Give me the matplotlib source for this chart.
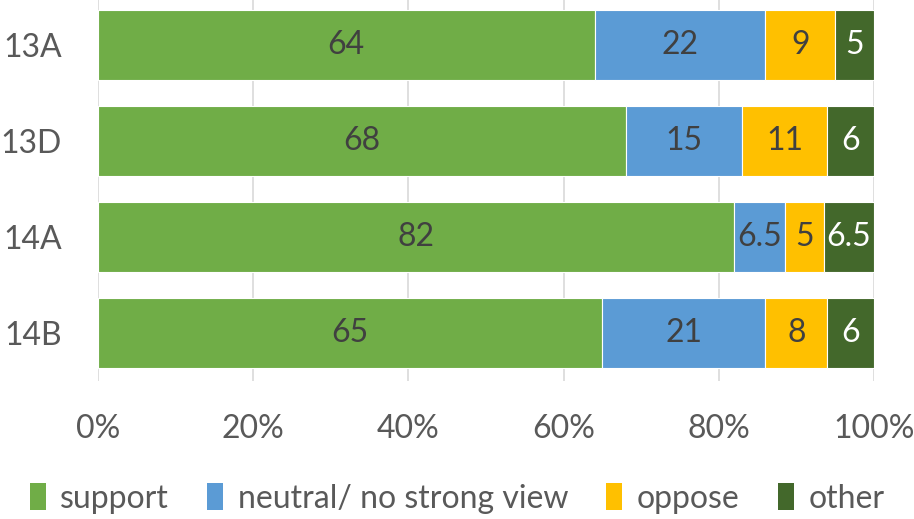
import matplotlib.pyplot as plt
import numpy as np

categories = ["13A", "13D", "14A", "14B"]
support = [64, 68, 82, 65]
neutral = [22, 15, 6.5, 21]
oppose = [9, 11, 5, 8]
other = [5, 6, 6.5, 6]
series_names = ["support", "neutral/ no strong view", "oppose", "other"]
tick_labels = ["0%", "20%", "40%", "60%", "80%", "100%"]


def fmt(v):
    return f"{v:g}"


def main():
    plt.rcParams["font.family"] = ["Lato", "DejaVu Sans"]
    fig = plt.figure(figsize=(9.14, 5.19), dpi=100)
    ax = fig.add_axes([0.1072, 0.2659, 0.849, 0.740])

    colors = ["#70AD47", "#5B9BD5", "#FFC000", "#43682B"]
    label_colors = ["#404040", "#404040", "#404040", "#FFFFFF"]
    data = [support, neutral, oppose, other]
    y = np.arange(len(categories))
    left = np.zeros(len(categories))
    for vals, name, col, lcol in zip(data, series_names, colors, label_colors):
        vals = np.array(vals, dtype=float)
        bars = ax.barh(y, vals, left=left, height=0.73, color=col,
                       edgecolor="white", linewidth=0.8, label=name, zorder=3)
        ax.bar_label(bars, labels=[fmt(v) for v in vals], label_type="center",
                     color=lcol, fontsize=23)
        left += vals

    ax.set_xlim(0, 100)
    ax.set_ylim(3.5, -0.5)
    ax.set_yticks(y)
    ax.set_yticklabels(categories)
    ax.set_xticks(np.linspace(0, 100, 6))
    ax.set_xticklabels(tick_labels)
    ax.tick_params(axis="both", length=0, labelsize=23, labelcolor="#595959")
    ax.tick_params(axis="y", pad=26)
    ax.tick_params(axis="x", pad=24)
    ax.grid(axis="x", color="#D9D9D9", linewidth=1.2, zorder=0)
    for s in ax.spines.values():
        s.set_visible(False)

    leg = fig.legend(loc="lower center", bbox_to_anchor=(0.5, -0.045), ncol=4,
                     frameon=False, fontsize=23, handlelength=0.5,
                     handleheight=0.9, handletextpad=0.45, columnspacing=1.2,
                     labelcolor="#595959")
    for h in leg.legend_handles:
        h.set_edgecolor("none")

    fig.savefig("out.png", dpi=100)


if __name__ == "__main__":
    main()
